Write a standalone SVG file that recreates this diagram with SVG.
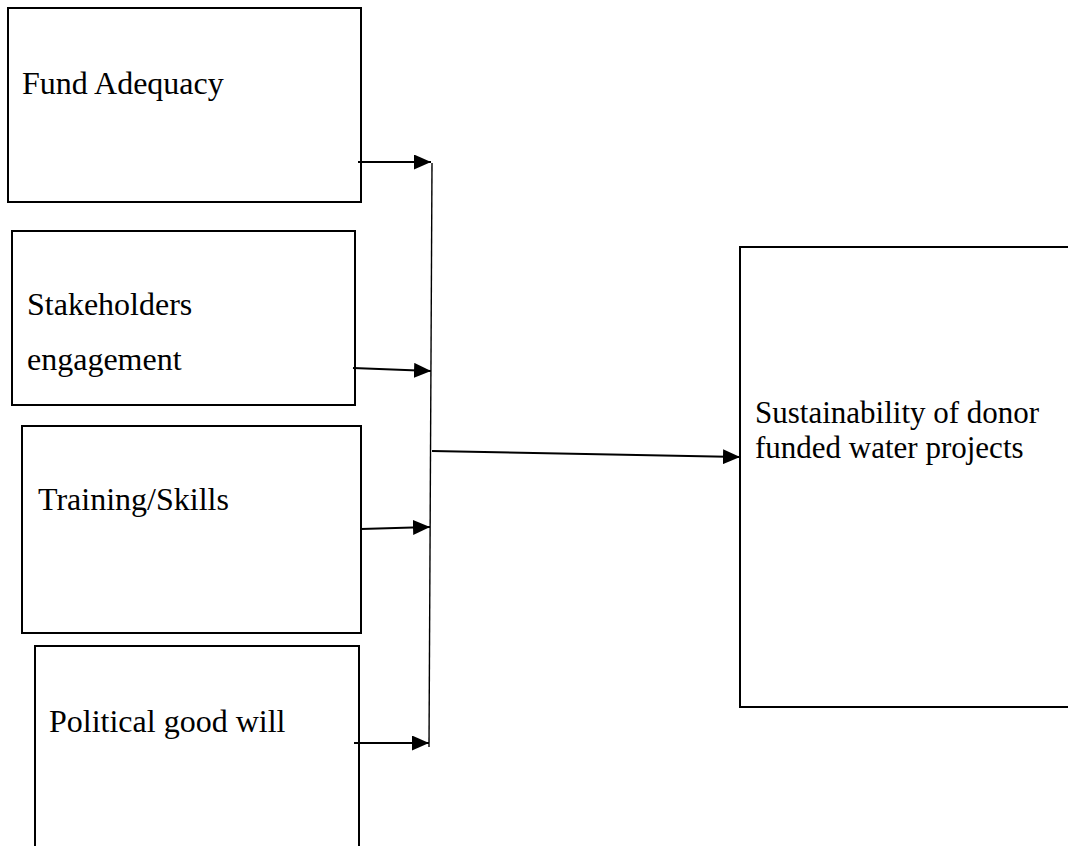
<svg xmlns="http://www.w3.org/2000/svg" width="1068" height="846" viewBox="0 0 1068 846">
<style>
.box{fill:#fff;stroke:#000;stroke-width:2}
.lbl{font-family:"Liberation Serif","Times New Roman",serif;font-size:32px;fill:#000}
.lbl2{font-family:"Liberation Serif","Times New Roman",serif;font-size:31px;fill:#000}
.con{stroke:#000;stroke-width:1.8;fill:none}
.arr{marker-end:url(#ah)}
</style>
<defs>
<marker id="ah" markerUnits="userSpaceOnUse" markerWidth="17" markerHeight="15" refX="17" refY="7.5" orient="auto">
<path d="M0,0 L17,7.5 L0,15 z" fill="#000"/>
</marker>
</defs>
<rect width="1068" height="846" fill="#fff"/>
<g id="n-fund">
<rect class="box" x="8" y="8" width="353" height="194"/>
<text class="lbl" x="22" y="94">Fund Adequacy</text>
</g>
<g id="n-stake">
<rect class="box" x="12" y="231" width="343" height="174"/>
<text class="lbl" x="27" y="315">Stakeholders</text>
<text class="lbl" x="27" y="370">engagement</text>
</g>
<g id="n-train">
<rect class="box" x="22" y="426" width="339" height="207"/>
<text class="lbl" x="38" y="510">Training/Skills</text>
</g>
<g id="n-pol">
<rect class="box" x="35" y="646" width="324" height="220"/>
<text class="lbl" x="49" y="732">Political good will</text>
</g>
<g id="n-sust">
<rect class="box" x="740" y="247" width="340" height="460"/>
<text class="lbl2" x="755" y="423">Sustainability of donor</text>
<text class="lbl2" x="755" y="458">funded water projects</text>
</g>
<g id="connectors">
<line class="con arr" x1="358" y1="162" x2="431" y2="162"/>
<line class="con arr" x1="353" y1="368" x2="431" y2="371"/>
<line class="con arr" x1="361" y1="529" x2="430" y2="527"/>
<line class="con arr" x1="354" y1="743" x2="429" y2="743"/>
<line class="con" x1="432" y1="163" x2="429" y2="747" style="stroke-width:1.4"/>
<line class="con arr" x1="432" y1="451" x2="740" y2="457"/>
</g>
</svg>
